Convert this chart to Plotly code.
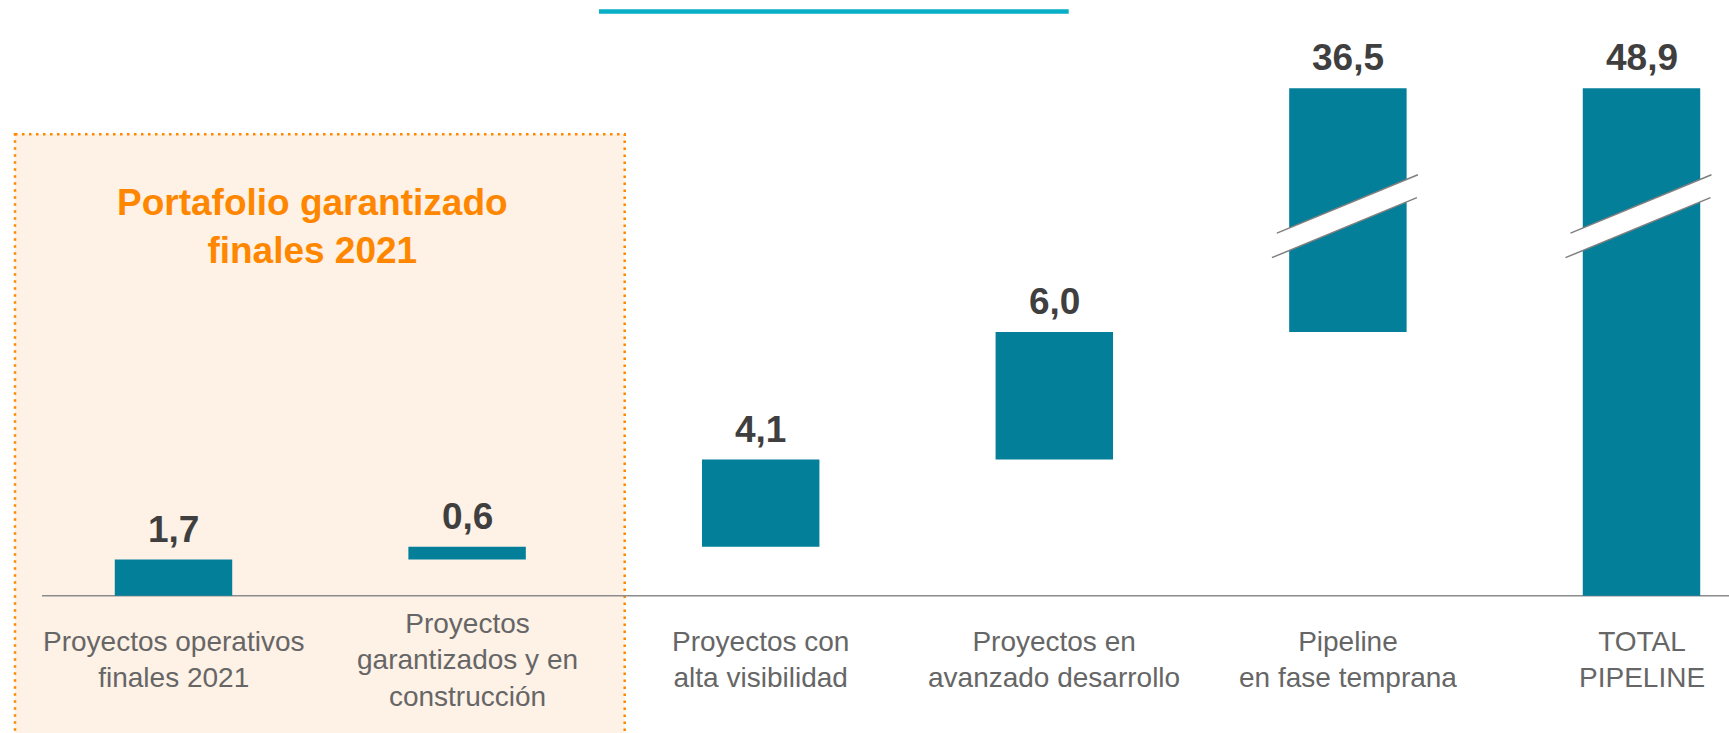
import plotly.graph_objects as go

# ---------------- data ----------------
categories = [
    "Proyectos operativos<br>finales 2021",
    "Proyectos<br>garantizados y en<br>construcción",
    "Proyectos con<br>alta visibilidad",
    "Proyectos en<br>avanzado desarrollo",
    "Pipeline<br>en fase temprana",
    "TOTAL<br>PIPELINE",
]
increments = [1.7, 0.6, 4.1, 6.0, 36.5]
total_value = 48.9

box_title = "Portafolio garantizado<br>finales 2021"

# ---------------- style / layout constants ----------------
W, H = 1729, 733
BAR_COLOR = "#037F9A"
LABEL_COLOR = "#3F3F3F"
CAT_COLOR = "#666666"
ORANGE = "#FF8700"
BOX_FILL = "#FEF1E6"
TEAL = "#06AEC6"

AXIS_BREAK = 12.4      # values above this are compressed (broken axis)
BREAK_SCALE = 0.314    # compression factor above the break
BREAK_MARK_Y = 17.9    # display position of the break marker

PX_PER_UNIT = 21.27
BASE_PX = 595.7
FIRST_CENTER_PX = 173.5
CAT_SPACING_PX = 293.6

X0 = -FIRST_CENTER_PX / CAT_SPACING_PX
X1 = (W - FIRST_CENTER_PX) / CAT_SPACING_PX
Y0 = -(H - BASE_PX) / PX_PER_UNIT
Y1 = BASE_PX / PX_PER_UNIT


def disp(v):
    return v if v <= AXIS_BREAK else AXIS_BREAK + (v - AXIS_BREAK) * BREAK_SCALE


def fmt(v):
    return f"{v:.1f}".replace(".", ",")


# cumulative bases / tops
values = increments + [total_value]
bases, tops = [], []
running = 0.0
for inc in increments:
    bases.append(running)
    running += inc
    tops.append(running)
bases.append(0.0)
tops.append(total_value)

d_base = [disp(b) for b in bases]
d_top = [disp(t) for t in tops]
d_height = [t - b for t, b in zip(d_top, d_base)]

fig = go.Figure()
fig.add_trace(go.Bar(
    x=categories, y=d_height, base=d_base,
    marker=dict(color=BAR_COLOR, line=dict(width=0)),
    width=0.4, hoverinfo="skip", showlegend=False,
))


# helpers to convert px into paper coordinates (plot area == full figure)
def pxx(p):
    return p / W


def pxy(p):
    return 1 - p / H


def dx_to_px(i):
    return FIRST_CENTER_PX + i * CAT_SPACING_PX


def dy_to_px(y):
    return BASE_PX - y * PX_PER_UNIT


shapes = []
# highlighted box
shapes.append(dict(
    type="rect", xref="paper", yref="paper",
    x0=pxx(15), x1=pxx(624.7), y0=pxy(134.3), y1=-0.1,
    fillcolor=BOX_FILL, line=dict(color=ORANGE, width=2.5, dash="2.5px,4.5px"),
    layer="below",
))
# baseline
shapes.append(dict(
    type="line", xref="paper", yref="paper",
    x0=pxx(42), x1=1.0, y0=pxy(BASE_PX), y1=pxy(BASE_PX),
    line=dict(color="#8C8C8C", width=1.5), layer="below",
))
# teal header line
shapes.append(dict(
    type="line", xref="paper", yref="paper",
    x0=pxx(599), x1=pxx(1068.7), y0=pxy(11.5), y1=pxy(11.5),
    line=dict(color=TEAL, width=4.5),
))

# broken-axis markers on bars whose top exceeds the break
slope = -0.414
half_gap = 11.25
for i, t in enumerate(tops):
    if t <= AXIS_BREAK:
        continue
    cx = dx_to_px(i)
    cy = dy_to_px(BREAK_MARK_Y)
    up = [(cx - 71, cy - half_gap - 71 * slope), (cx + 70, cy - half_gap + 70 * slope)]
    lo = [(cx - 76, cy + half_gap - 76 * slope), (cx + 69, cy + half_gap + 69 * slope)]
    path = (f"M {pxx(up[0][0])},{pxy(up[0][1])} L {pxx(up[1][0])},{pxy(up[1][1])} "
            f"L {pxx(lo[1][0])},{pxy(lo[1][1])} L {pxx(lo[0][0])},{pxy(lo[0][1])} Z")
    shapes.append(dict(type="path", xref="paper", yref="paper", path=path,
                       fillcolor="white", line=dict(width=0), layer="above"))
    for seg in (up, lo):
        shapes.append(dict(type="line", xref="paper", yref="paper",
                           x0=pxx(seg[0][0]), y0=pxy(seg[0][1]),
                           x1=pxx(seg[1][0]), y1=pxy(seg[1][1]),
                           line=dict(color="#7F7F7F", width=1.5), layer="above"))

annotations = []
# value labels
for cat, v, t in zip(categories, values, d_top):
    annotations.append(dict(
        x=cat, y=t, xref="x", yref="y", text=f"<b>{fmt(v)}</b>",
        showarrow=False, xanchor="center", yanchor="bottom", yshift=8,
        font=dict(family="Liberation Sans, Arial, sans-serif", size=37, color=LABEL_COLOR),
    ))
# category labels
for cat in categories:
    annotations.append(dict(
        x=cat, y=-3.02, xref="x", yref="y", text=cat,
        showarrow=False, xanchor="center", yanchor="middle", align="center",
        font=dict(family="Liberation Sans, Arial, sans-serif", size=28, color=CAT_COLOR),
    ))
# box title
annotations.append(dict(
    x=pxx(312.5), y=pxy(226), xref="paper", yref="paper", text=f"<b>{box_title}</b>",
    showarrow=False, xanchor="center", yanchor="middle", align="center",
    font=dict(family="Liberation Sans, Arial, sans-serif", size=37, color=ORANGE),
))

fig.update_layout(
    width=W, height=H,
    margin=dict(l=0, r=0, t=0, b=0),
    paper_bgcolor="white", plot_bgcolor="rgba(0,0,0,0)",
    xaxis=dict(range=[X0, X1], visible=False, fixedrange=True),
    yaxis=dict(range=[Y0, Y1], visible=False, fixedrange=True),
    shapes=shapes, annotations=annotations,
)

fig.write_html(
    "out.html",
    config={"displayModeBar": False},
    post_script="document.body.style.margin='0';document.body.style.overflow='hidden';",
)
